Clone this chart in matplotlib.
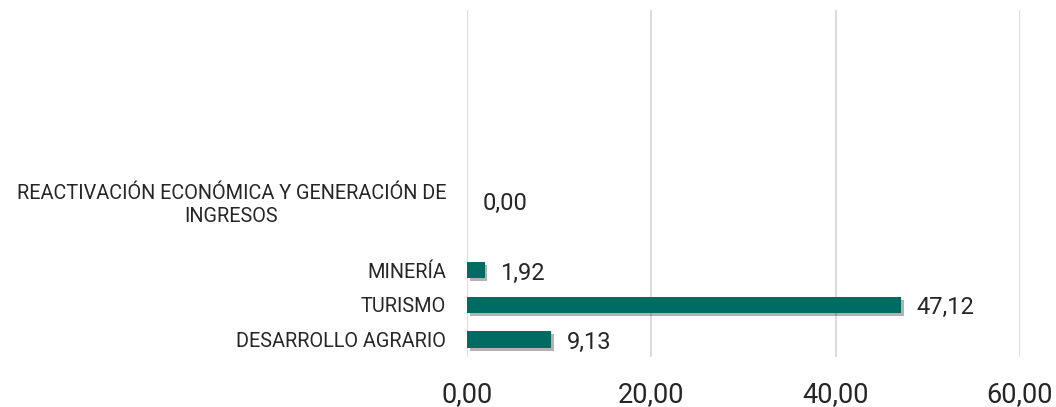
import matplotlib
matplotlib.use("Agg")
import matplotlib.pyplot as plt
import matplotlib.patheffects as pe

categories = ["DESARROLLO AGRARIO", "TURISMO", "MINERÍA", "",
              "REACTIVACIÓN ECONÓMICA Y GENERACIÓN DE\nINGRESOS", "", "", "", "", ""]
values = [9.13, 47.12, 1.92, None, 0.00, None, None, None, None, None]
xticks = [0, 20, 40, 60]
xtick_labels = ["0,00", "20,00", "40,00", "60,00"]

plt.rcParams['font.family'] = ['Roboto', 'DejaVu Sans']
text_color = "#262626"
bar_color = "#006B63"

fig = plt.figure(figsize=(10.56, 4.07), dpi=100)
ax = fig.add_axes([467/1056, 1 - 357/407, (1020-467)/1056, (357-10)/407])

pos = list(range(len(categories)))
for i, v in enumerate(values):
    if v is None:
        continue
    ax.barh(i, v, height=0.47, color=bar_color, zorder=3,
            path_effects=[pe.SimplePatchShadow(offset=(2, -2), shadow_rgbFace="#000000", alpha=0.3),
                          pe.Normal()])
    ax.annotate(f"{v:.2f}".replace(".", ","), xy=(v, i), xytext=(11, -2),
                textcoords="offset points", va="center", ha="left",
                fontsize=17, color=text_color)

ax.set_xlim(0, 60)
ax.set_ylim(-0.5, len(categories) - 0.5)
ax.set_yticks(pos)
ax.set_yticklabels(categories, fontsize=14.3, color=text_color, ha="right",
                   multialignment="center", linespacing=1.25)
ax.tick_params(axis="y", length=0, pad=15)
ax.set_xticks(xticks)
ax.set_xticklabels(xtick_labels, fontsize=19.5, color=text_color)
ax.tick_params(axis="x", length=0, pad=17)
ax.grid(axis="x", color="#d9d9d9", linewidth=1.3, zorder=0)
for s in ax.spines.values():
    s.set_visible(False)

fig.savefig("out.png", dpi=100)
